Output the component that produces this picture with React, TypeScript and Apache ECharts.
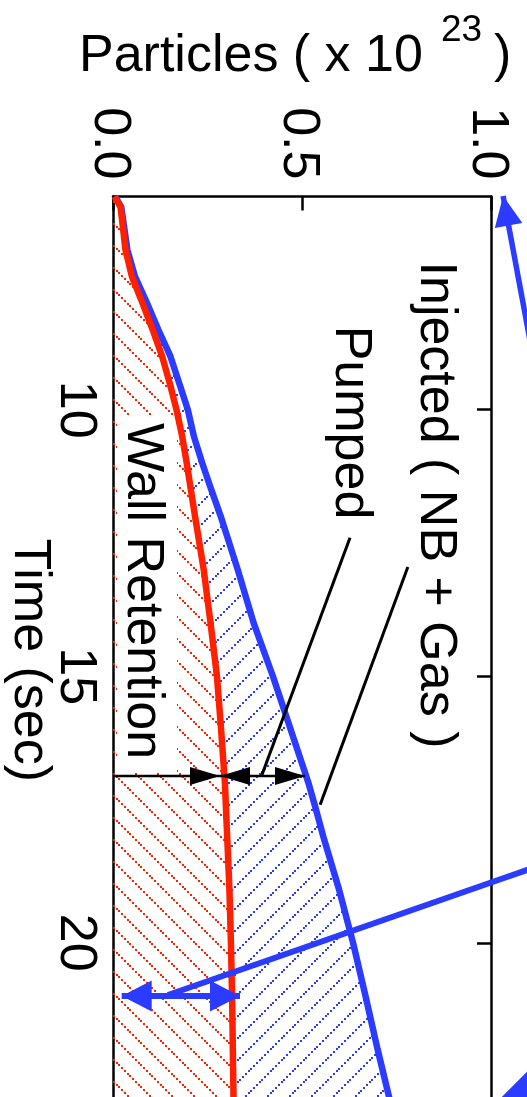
import React, { useEffect, useRef } from 'react';
import * as echarts from 'echarts';

// Time samples (s) shared by both curves
const TIME = [6.0, 6.2, 6.5, 7.0, 7.5, 8.0, 8.5, 9.0, 9.5, 10.0, 10.5, 11.0, 11.5, 12.0, 13.0, 14.0, 15.0, 16.0, 17.0, 17.5, 18.0, 19.0, 20.0, 21.0, 22.0, 23.0, 23.4];
// Cumulative injected particles, NB + gas (x 1e23)
const INJECTED = [0.006, 0.022, 0.028, 0.038, 0.058, 0.09, 0.12, 0.152, 0.175, 0.198, 0.214, 0.236, 0.26, 0.285, 0.33, 0.372, 0.423, 0.47, 0.517, 0.537, 0.556, 0.598, 0.635, 0.668, 0.7, 0.734, 0.745];
// Particles retained in the wall (x 1e23)
const RETAINED = [0.004, 0.02, 0.025, 0.033, 0.05, 0.078, 0.105, 0.13, 0.15, 0.168, 0.183, 0.195, 0.206, 0.217, 0.24, 0.258, 0.275, 0.286, 0.296, 0.299, 0.302, 0.308, 0.312, 0.315, 0.317, 0.319, 0.32];

const PARTICLE_TICKS = [0, 0.5, 1.0];
const TIME_TICKS = [10, 15, 20];
const TIME_RANGE = [6, 23.4];

// Balance arrow: time, wall-retained level, pumped (injected) level
const BALANCE = { time: 16.87, wall: 0.283, injected: 0.508 };
// Leader lines [value, time] -> [value, time]
const PUMPED_LEADER = [[0.627, 12.4], [0.394, 16.85]];
const INJECTED_LEADER = [[0.78, 12.95], [0.548, 17.41]];
// Blue pointer arrows
const WALL_POINTER = { time: 21.0, left: 0.023, right: 0.336, from: [1.1825, 18.42], to: [0.1455, 20.98] };
const TOP_POINTER = { tip: [1.032, 5.99], tail: [1.103, 8.69] };
const CORNER_WEDGE = [[1.0159, 22.983], [1.1111, 22.308], [1.1296, 23.133]];

const FONT = '"Liberation Sans", Arial, Helvetica, sans-serif';
const RED = '#ff2000';
const BLUE = '#2b3bff';

// Dotted diagonal hatch tile
function makeHatch(color: string, rising: boolean) {
  const size = 22;
  const cv = document.createElement('canvas');
  cv.width = size;
  cv.height = size;
  const ctx = cv.getContext('2d')!;
  ctx.fillStyle = color;
  for (let k = 0; k < 8; k++) {
    const p = Math.round(k * 2.75);
    ctx.fillRect(p, rising ? size - 2 - p : p, 2, 2);
  }
  return { image: cv, repeat: 'repeat', imageWidth: size, imageHeight: size } as any;
}

function arrowHead(tip: number[], from: number[], len: number, half: number, fill: string) {
  const dx = tip[0] - from[0];
  const dy = tip[1] - from[1];
  const L = Math.hypot(dx, dy) || 1;
  const ux = dx / L;
  const uy = dy / L;
  const bx = tip[0] - ux * len;
  const by = tip[1] - uy * len;
  return {
    type: 'polygon',
    shape: { points: [tip, [bx - uy * half, by + ux * half], [bx + uy * half, by - ux * half]] },
    style: { fill, stroke: null },
  };
}

function seg(a: number[], b: number[], color: string, width: number) {
  return {
    type: 'line',
    shape: { x1: a[0], y1: a[1], x2: b[0], y2: b[1] },
    style: { stroke: color, lineWidth: width },
  };
}

export default function App() {
  const ref = useRef<HTMLDivElement>(null);

  useEffect(() => {
    if (!ref.current) return;
    const chart = echarts.init(ref.current, undefined, { renderer: 'svg' });
    const redHatch = makeHatch(RED, false);
    const blueHatch = makeHatch(BLUE, true);

    const injectedLine = TIME.map((t, i) => [INJECTED[i], t]);
    const retainedLine = TIME.map((t, i) => [RETAINED[i], t]);

    const textStyle = { fontSize: 52, fontFamily: FONT, fill: '#000', align: 'center', verticalAlign: 'middle' };

    chart.setOption({
      animation: false,
      grid: { left: 113, top: 196.5, width: 378, height: 927.5, containLabel: false, outerBoundsMode: 'none' },
      xAxis: {
        type: 'value',
        position: 'top',
        min: PARTICLE_TICKS[0],
        max: PARTICLE_TICKS[2],
        interval: 0.5,
        axisLine: { show: true, lineStyle: { color: '#000', width: 2.5 } },
        axisTick: { show: true, inside: true, length: 14, lineStyle: { color: '#000', width: 2.5 } },
        axisLabel: {
          rotate: 90,
          margin: 17,
          fontSize: 52,
          fontFamily: FONT,
          color: '#000',
          formatter: (v: number) => v.toFixed(1),
        },
        splitLine: { show: false },
      },
      yAxis: [
        {
          type: 'value',
          inverse: true,
          min: TIME_RANGE[0],
          max: TIME_RANGE[1],
          position: 'left',
          axisLine: { show: true, lineStyle: { color: '#000', width: 2.5 } },
          axisTick: { show: false },
          axisLabel: {
            customValues: TIME_TICKS,
            rotate: -90,
            margin: 8,
            fontSize: 52,
            fontFamily: FONT,
            color: '#000',
          },
          splitLine: { show: false },
          name: 'Time (sec)',
          nameLocation: 'middle',
          nameRotate: -90,
          nameGap: 54,
          nameMoveOverlap: false,
          nameTextStyle: { fontSize: 52, fontFamily: FONT, color: '#000' },
        },
        {
          type: 'value',
          inverse: true,
          min: TIME_RANGE[0],
          max: TIME_RANGE[1],
          position: 'right',
          axisLine: { show: true, lineStyle: { color: '#000', width: 2.5 } },
          axisTick: {
            show: true,
            inside: true,
            length: 14,
            customValues: TIME_TICKS,
            lineStyle: { color: '#000', width: 2.5 },
          },
          axisLabel: { show: false },
          splitLine: { show: false },
        },
      ],
      graphic: [
        {
          type: 'rect',
          z: 2,
          silent: true,
          shape: { x: 117, y: 415, width: 60, height: 357 },
          style: { fill: '#fff' },
        },
        { type: 'text', z: 5, x: 146, y: 591, rotation: -Math.PI / 2, style: { ...textStyle, text: 'Wall Retention' } },
        { type: 'text', z: 5, x: 353.5, y: 422.5, rotation: -Math.PI / 2, style: { ...textStyle, text: 'Pumped' } },
        { type: 'text', z: 5, x: 438.5, y: 505, rotation: -Math.PI / 2, style: { ...textStyle, text: 'Injected ( NB + Gas )' } },
        { type: 'text', z: 5, x: 79, y: 52.5, style: { ...textStyle, align: 'left', text: 'Particles ( x 10' } },
        { type: 'text', z: 5, x: 441, y: 28.5, style: { ...textStyle, fontSize: 37, align: 'left', text: '23' } },
        { type: 'text', z: 5, x: 494, y: 52.5, style: { ...textStyle, align: 'left', text: ')' } },
      ],
      series: [
        {
          type: 'custom',
          name: 'hatch',
          z: 1,
          silent: true,
          xAxisIndex: 0,
          yAxisIndex: 0,
          data: [[0, TIME[0]]],
          renderItem: (_p: any, api: any) => {
            const redPts = TIME.map((t, i) => api.coord([RETAINED[i], t]));
            const bluePts = TIME.map((t, i) => api.coord([INJECTED[i], t]));
            const last = TIME[TIME.length - 1];
            const wall = [api.coord([0, TIME[0]]), ...redPts, api.coord([0, last])];
            const pumped = [...bluePts, ...redPts.slice().reverse()];
            return {
              type: 'group',
              children: [
                { type: 'polygon', shape: { points: wall }, style: { fill: redHatch, stroke: null } },
                { type: 'polygon', shape: { points: pumped }, style: { fill: blueHatch, stroke: null } },
              ],
            };
          },
        },
        {
          type: 'line',
          name: 'Injected ( NB + Gas )',
          z: 3,
          xAxisIndex: 0,
          yAxisIndex: 0,
          data: injectedLine,
          showSymbol: false,
          lineStyle: { color: BLUE, width: 6.5 },
          itemStyle: { color: BLUE },
        },
        {
          type: 'line',
          name: 'Wall Retention',
          z: 3,
          xAxisIndex: 0,
          yAxisIndex: 0,
          data: retainedLine,
          showSymbol: false,
          lineStyle: { color: RED, width: 6.5 },
          itemStyle: { color: RED },
        },
        {
          type: 'custom',
          name: 'annotations',
          z: 4,
          silent: true,
          xAxisIndex: 0,
          yAxisIndex: 0,
          data: [[0, TIME[0]]],
          renderItem: (_p: any, api: any) => {
            const c = (v: number, t: number) => api.coord([v, t]);
            const t = BALANCE.time;
            const origin = c(0, t);
            const wallPt = c(BALANCE.wall, t);
            const injPt = c(BALANCE.injected, t);
            const wl = c(WALL_POINTER.left, WALL_POINTER.time);
            const wr = c(WALL_POINTER.right, WALL_POINTER.time);
            const topTip = c(TOP_POINTER.tip[0], TOP_POINTER.tip[1]);
            const topTail = c(TOP_POINTER.tail[0], TOP_POINTER.tail[1]);
            const children: any[] = [
              seg(c(PUMPED_LEADER[0][0], PUMPED_LEADER[0][1]), c(PUMPED_LEADER[1][0], PUMPED_LEADER[1][1]), '#000', 3),
              seg(c(INJECTED_LEADER[0][0], INJECTED_LEADER[0][1]), c(INJECTED_LEADER[1][0], INJECTED_LEADER[1][1]), '#000', 3),
              seg(origin, injPt, '#000', 2.5),
              arrowHead(wallPt, origin, 30, 9, '#000'),
              arrowHead(wallPt, injPt, 30, 9, '#000'),
              arrowHead(injPt, origin, 30, 9, '#000'),
              seg(c(WALL_POINTER.from[0], WALL_POINTER.from[1]), c(WALL_POINTER.to[0], WALL_POINTER.to[1]), BLUE, 6),
              seg(wl, wr, BLUE, 6),
              arrowHead(wl, wr, 30, 15.5, BLUE),
              arrowHead(wr, wl, 30, 15.5, BLUE),
              seg(topTail, topTip, BLUE, 5.5),
              arrowHead(topTip, topTail, 30, 14, BLUE),
              {
                type: 'polygon',
                shape: { points: CORNER_WEDGE.map((p) => c(p[0], p[1])) },
                style: { fill: BLUE, stroke: null },
              },
            ];
            return { type: 'group', children };
          },
        },
      ],
    });

    return () => chart.dispose();
  }, []);

  return <div ref={ref} style={{ position: 'fixed', left: 0, top: 0, width: 527, height: 1140 }} />;
}
